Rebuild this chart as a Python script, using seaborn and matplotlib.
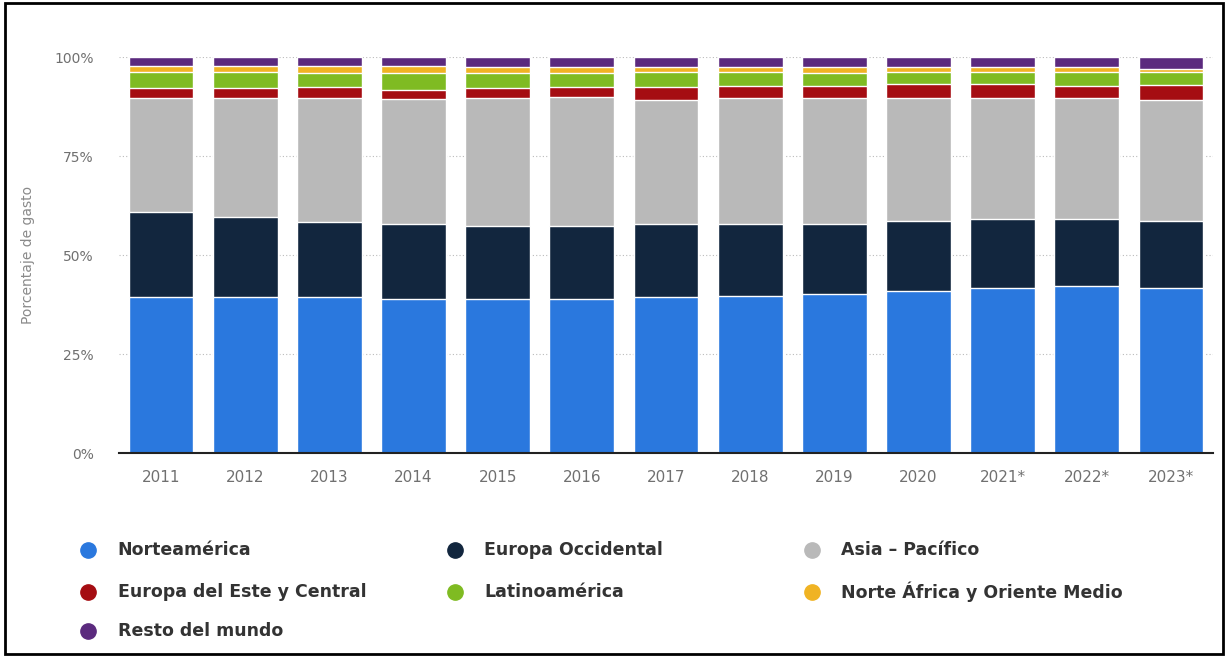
import numpy as np
import pandas as pd
import matplotlib
matplotlib.use('Agg')
import matplotlib.pyplot as plt
from matplotlib.lines import Line2D
from matplotlib.patches import Rectangle
from matplotlib.ticker import FuncFormatter
import seaborn as sns

# datos (porcentaje de gasto por región)
years = ['2011', '2012', '2013', '2014', '2015', '2016', '2017', '2018', '2019', '2020',
         '2021*', '2022*', '2023*']
norteamerica = [39.3, 39.3, 39.3, 38.9, 38.9, 38.9, 39.3, 39.7, 40.2, 40.8, 41.8, 42.3, 41.8]
europa_occidental = [21.5, 20.3, 19.0, 19.0, 18.5, 18.5, 18.6, 18.2, 17.7, 17.9, 17.4, 16.9, 16.9]
asia_pacifico = [28.9, 30.1, 31.3, 31.5, 32.2, 32.6, 31.4, 31.7, 31.7, 31.0, 30.5, 30.6, 30.6]
europa_este = [2.6, 2.6, 2.9, 2.4, 2.7, 2.4, 3.1, 3.1, 3.2, 3.4, 3.4, 3.0, 3.7]
latinoamerica = [4.0, 4.0, 3.5, 4.2, 3.7, 3.6, 3.9, 3.6, 3.2, 3.2, 3.2, 3.5, 3.3]
norte_africa = [1.4, 1.4, 1.8, 1.8, 1.5, 1.5, 1.1, 1.1, 1.5, 1.1, 1.1, 1.1, 0.6]
resto_mundo = [2.3, 2.3, 2.2, 2.2, 2.5, 2.5, 2.6, 2.6, 2.5, 2.6, 2.6, 2.6, 3.1]

labels = ['Norteamérica', 'Europa Occidental', 'Asia – Pacífico', 'Europa del Este y Central',
          'Latinoamérica', 'Norte África y Oriente Medio', 'Resto del mundo']
colors = ['#2a78de', '#12263e', '#b9b9b9', '#a50d12', '#7fbb22', '#f0b323', '#5b2a7e']
series = [norteamerica, europa_occidental, asia_pacifico, europa_este,
          latinoamerica, norte_africa, resto_mundo]

sns.set_theme(style='white')
plt.rcParams['font.family'] = ['DejaVu Sans']

fig = plt.figure(figsize=(12.28, 6.57), dpi=100)
ax = fig.add_axes([0.0969, 0.3105, 0.891, 0.6025])

# barras apiladas: se dibuja el acumulado de arriba hacia abajo
df = pd.DataFrame(dict(zip(labels, series)), index=years)
cum = df.cumsum(axis=1)
for label, color in reversed(list(zip(labels, colors))):
    sns.barplot(x=cum.index, y=cum[label].values, order=years, color=color,
                width=0.77, edgecolor='white', linewidth=1, errorbar=None,
                saturation=1, ax=ax, zorder=3)

ax.set_ylim(0, 100)
ax.set_xlim(-0.5, len(years) - 0.5)
ax.set_yticks([0, 25, 50, 75, 100])
ax.yaxis.set_major_formatter(FuncFormatter(lambda v, p: f'{v:.0f}%'))
ax.yaxis.grid(True, linestyle=(0, (1, 2)), color='#bbbbbb', linewidth=0.8, zorder=0)
ax.set_axisbelow(True)
for s in ['top', 'right', 'left']:
    ax.spines[s].set_visible(False)
ax.spines['bottom'].set_color('#222222')
ax.spines['bottom'].set_linewidth(1.5)
ax.spines['bottom'].set_zorder(6)
ax.tick_params(axis='y', length=0, pad=18, labelsize=10, labelcolor='#707070')
ax.tick_params(axis='x', length=0, pad=12, labelsize=11, labelcolor='#707070')
ax.set_xlabel('')
ax.set_ylabel('Porcentaje de gasto', fontsize=10, color='#8a8a8a', labelpad=14)

# leyenda manual en 3 columnas
col_x = [0.0717, 0.3705, 0.661]
row_y = [1 - 550 / 657, 1 - 592 / 657, 1 - 631 / 657]
for i, (label, color) in enumerate(zip(labels, colors)):
    r, c = divmod(i, 3)
    fig.add_artist(Line2D([col_x[c]], [row_y[r]], marker='o', markersize=11,
                          color=color, linestyle='none', transform=fig.transFigure))
    fig.text(col_x[c] + 0.024, row_y[r], label, fontsize=12.5, fontweight='bold',
             color='#333333', va='center', ha='left')

# marco negro
fig.add_artist(Rectangle((0.004, 0.005), 0.992, 0.99, fill=False, edgecolor='black',
                         linewidth=2, transform=fig.transFigure))

fig.savefig('out.png', dpi=100)
